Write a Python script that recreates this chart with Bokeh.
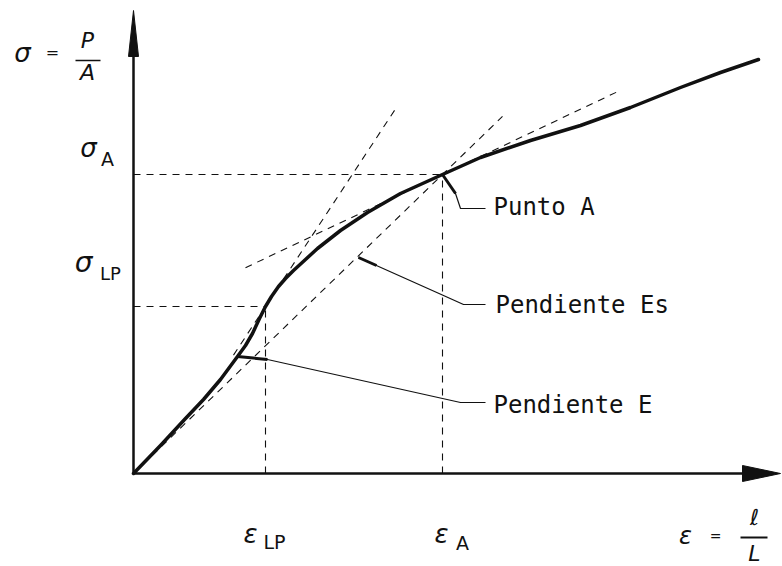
from bokeh.plotting import figure
from bokeh.models import Range1d
from bokeh.embed import file_html
from bokeh.resources import INLINE
from bokeh.core.properties import value

# ---- data (strain / stress in drawing units) ----
strain = [0, 27, 52, 70, 87, 104, 112, 119, 126, 132, 138, 145, 152, 160, 172, 184,
          207, 234, 267, 309, 347, 397, 447, 497, 547, 587, 625]
stress = [0, 28, 55, 74, 94, 117, 128, 140, 155, 167, 177, 187, 195, 203, 214, 225,
          243, 261, 280, 299, 316, 333, 348, 366, 386, 401, 414]

eps_LP, sig_LP = 132, 167      # proportional limit
eps_A, sig_A = 309, 299        # point A

secant_end = 369               # secant (Es) drawn up to this strain
tan_LP_range = [100, 262]      # tangent at LP (slope E)
slope_LP = 1.52
tan_A_range = [112, 484]       # tangent at A
slope_A = 0.473

x_axis_end = 647
y_axis_end = 463

leader_punto = ([309, 322, 327, 352], [299, 280, 265, 265])
leader_es = ([225, 310, 330, 352], [216, 178, 169, 169])
leader_e = ([104, 134, 327, 352], [117, 114, 71, 71])

labels = ["Punto A", "Pendiente  Es", "Pendiente E"]

W, H = 782, 566
p = figure(width=W, height=H, output_backend="svg", toolbar_location=None,
           x_range=Range1d(-133, -133 + W), y_range=Range1d(-93, -93 + H),
           x_axis_type=None, y_axis_type=None, min_border=0,
           background_fill_color="white", border_fill_color="white")
p.outline_line_color = None
p.grid.visible = False

black = "#111111"
dash = "7 6"

# reference dashed lines
p.line([0, eps_A], [sig_A, sig_A], line_color=black, line_width=1.1, line_dash=dash)
p.line([eps_A, eps_A], [0, sig_A], line_color=black, line_width=1.1, line_dash=dash)
p.line([0, eps_LP], [sig_LP, sig_LP], line_color=black, line_width=1.1, line_dash=dash)
p.line([eps_LP, eps_LP], [0, sig_LP], line_color=black, line_width=1.1, line_dash=dash)

# secant through origin and A
sec_slope = sig_A / eps_A
p.line([0, secant_end], [0, sec_slope * secant_end], line_color=black,
       line_width=1.1, line_dash=dash)
# tangent at LP
p.line(tan_LP_range, [sig_LP + slope_LP * (x - eps_LP) for x in tan_LP_range],
       line_color=black, line_width=1.1, line_dash=dash)
# tangent at A
p.line(tan_A_range, [sig_A + slope_A * (x - eps_A) for x in tan_A_range],
       line_color=black, line_width=1.1, line_dash=dash)

# axes
p.line([0, x_axis_end - 30], [0, 0], line_color=black, line_width=2.5)
p.line([0, 0], [0, y_axis_end - 30], line_color=black, line_width=2.5)
p.patch([x_axis_end, x_axis_end - 38, x_axis_end - 38], [0, 8, -8],
        fill_color=black, line_color=black)
p.patch([0, -5, 5], [y_axis_end, y_axis_end - 46, y_axis_end - 46],
        fill_color=black, line_color=black)

# main curve
p.line(strain, stress, line_color=black, line_width=3.5, line_join="round",
       line_cap="round")

# leaders
for lx, ly in (leader_punto, leader_es, leader_e):
    p.line(lx, ly, line_color=black, line_width=1.2)
# thicker arrow starts of leaders
p.line(leader_punto[0][:2], leader_punto[1][:2], line_color=black, line_width=3)
p.line([leader_es[0][0], leader_es[0][0] + 18], [leader_es[1][0], leader_es[1][0] - 8],
       line_color=black, line_width=3)
p.line(leader_e[0][:2], leader_e[1][:2], line_color=black, line_width=3)

lab_font = value("DejaVu Sans Mono")
p.text([360, 362, 360], [267, 169, 69], text=labels, text_font=lab_font,
       text_font_size="24px", text_align="left", text_baseline="middle",
       text_color=black)

sym_font = value("DejaVu Sans")

def t(x, y, s, size, italic=False):
    p.text([x], [y], text=[s], text_font=sym_font, text_font_size=size,
           text_align="center", text_baseline="middle", text_color=black,
           text_font_style="italic" if italic else "normal")

# sigma = P / A
t(-111, 421, "σ", "26px", True)
t(-81, 421, "=", "16px")
t(-46, 433, "P", "22px", True)
p.line([-58, -33], [413, 413], line_color=black, line_width=1.5)
t(-46, 401, "A", "22px", True)

# sigma_A, sigma_LP
t(-45, 326, "σ", "26px", True)
t(-26, 315, "A", "19px")
t(-50, 211, "σ", "28px", True)
t(-23, 200, "LP", "18px")

# eps_LP, eps_A
t(117, -60, "ε", "26px", True)
t(141, -68, "LP", "19px")
t(308, -60, "ε", "26px", True)
t(329, -69, "A", "19px")

# eps = l / L
t(552, -62, "ε", "24px", True)
t(582, -62, "=", "14px")
t(621, -44, "ℓ", "22px", True)
p.line([607, 634], [-64, -64], line_color=black, line_width=2)
t(621, -80, "L", "22px", True)

open("out.html", "w").write(file_html(p, INLINE))
